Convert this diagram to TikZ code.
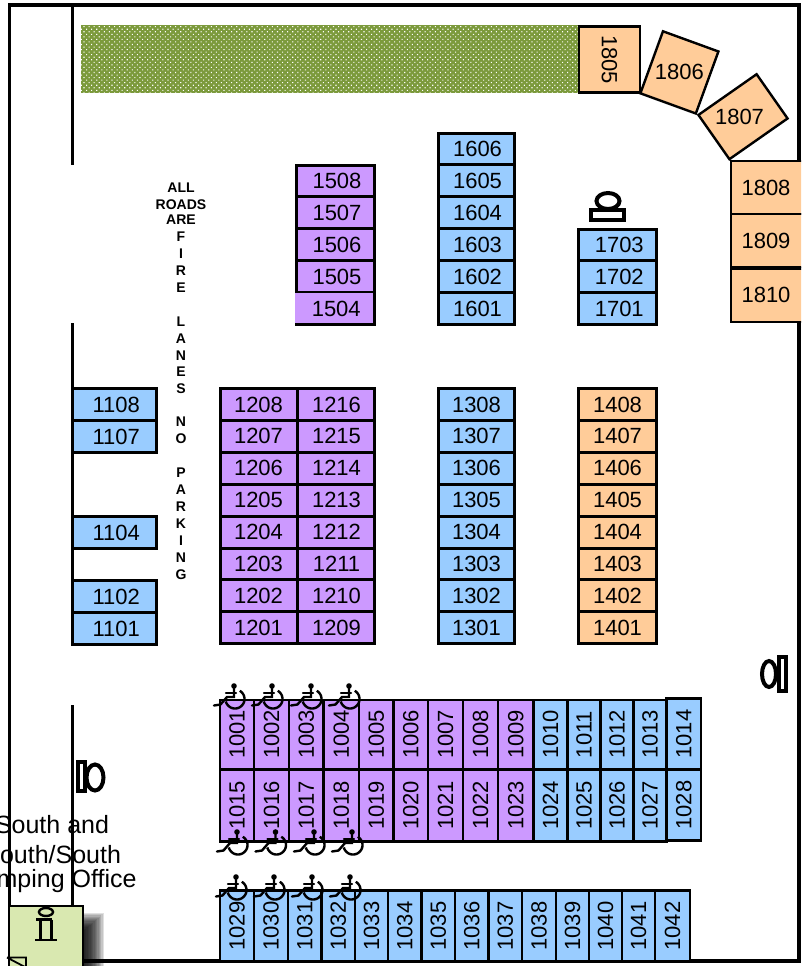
\documentclass[tikz,border=0pt]{standalone}
\usepackage{fontspec}
\usepackage{graphicx}
\setmainfont{Liberation Sans}
\usetikzlibrary{patterns.meta}
\definecolor{purp}{HTML}{CC99FF}
\definecolor{blu}{HTML}{99CCFF}
\definecolor{org}{HTML}{FFCC99}
\definecolor{infog}{HTML}{D9E8B0}
\definecolor{grass}{HTML}{7C9A3C}
\newcommand{\rotnum}[1]{\rotatebox{90}{#1}}
\newcommand{\shr}[1]{\hspace*{3.5pt}#1}
\tikzset{
  x=1pt,y=-1pt,
  stall/.style={draw=black,line width=3pt,inner sep=0pt,outer sep=0pt,font=\fontsize{22}{24}\selectfont,text=black,anchor=north west},
  thin stall/.style={stall,line width=2.4pt},
  wall/.style={draw=black,line width=3.2pt},
  icon/.style={draw=black,line width=4pt},
  chair/.pic={
    \fill (0,0) circle (2.8);
    \draw[line width=2.4pt,line cap=round] (0,1) -- (0,11) -- (-7,11) -- (-13.5,18.5) -- (-20,19.5);
    \draw[line width=2.4pt,line cap=round] (-8,7) -- (2,7);
    \draw[line width=2.4pt] plot[smooth,domain=-60:165,samples=30] ({1+9.5*cos(\x)},{13+9.5*sin(\x)});
  },
  cnote/.style={font=\fontsize{25}{26}\selectfont,anchor=base east,inner sep=0pt,outer sep=0pt,text=black},
  lane/.style={font=\bfseries\fontsize{14}{14}\selectfont,inner sep=0pt}
}
\begin{document}
\begin{tikzpicture}
\useasboundingbox (0,0) rectangle (801,966);
\clip (0,0) rectangle (801,966);
% green strip
\fill[grass] (81,25) rectangle (579,92.5);
\fill[pattern={Dots[radius=0.75pt,distance=3.6pt,angle=45]},pattern color=white] (81,25) rectangle (579,92.5);
% shadow
\foreach \i in {0,...,15}
  \fill[black,opacity=.12] (30,{913+1.2*\i}) rectangle ({104-1.35*\i},966);
% walls
\draw[wall] (9.5,906) -- (9.5,5) -- (799,5) -- (799,161);
\draw[wall] (799,322) -- (799,961) -- (83,961);
\draw[wall] (72.5,5) -- (72.5,165);
\draw[wall] (72.5,323) -- (72.5,644);
\draw[wall] (72.5,705) -- (72.5,906);
% 11xx
\foreach \t/\yy in {1108/388.5,1107/420.5,1104/516.5,1102/580.5,1101/612.5}
  \node[stall,fill=blu,minimum width=84pt,minimum height=31.9pt] (s\t) at (72.5,\yy) {\shr{\t}};
% 12xx
\foreach \t [count=\i from 0] in {1208,1207,1206,1205,1204,1203,1202,1201}
  \node[stall,fill=purp,minimum width=77pt,minimum height=31.9pt] (s\t) at (220,{388.5+31.9*\i}) {\t};
\foreach \t [count=\i from 0] in {1216,1215,1214,1213,1212,1211,1210,1209}
  \node[stall,fill=purp,minimum width=77pt,minimum height=31.9pt] (s\t) at (297,{388.5+31.9*\i}) {\hspace*{2pt}\t};
% 13xx
\foreach \t [count=\i from 0] in {1308,1307,1306,1305,1304,1303,1302,1301}
  \node[stall,fill=blu,minimum width=76pt,minimum height=31.9pt] (s\t) at (438.5,{388.5+31.9*\i}) {\t};
% 14xx
\foreach \t [count=\i from 0] in {1408,1407,1406,1405,1404,1403,1402,1401}
  \node[stall,fill=org,minimum width=78pt,minimum height=31.9pt] (s\t) at (578.5,{388.5+31.9*\i}) {\t};
% 15xx
\foreach \t [count=\i from 0] in {1508,1507,1506,1505}
  \node[stall,fill=purp,minimum width=77.5pt,minimum height=31.9pt] (s\t) at (296.5,{165+31.9*\i}) {\shr{\t}};
\node[stall,draw=none,fill=purp,minimum width=79pt,minimum height=32pt] (s1504) at (295,292.5) {\shr{1504}};
\draw[line width=3pt] (s1504.north east) -- (s1504.south east) -- (s1504.south west);
% 16xx
\foreach \t [count=\i from 0] in {1606,1605,1604,1603,1602,1601}
  \node[stall,fill=blu,minimum width=76pt,minimum height=31.9pt] (s\t) at (438.5,{133+31.9*\i}) {\hspace*{2pt}\t};
% 17xx
\foreach \t [count=\i from 0] in {1703,1702,1701}
  \node[stall,fill=blu,minimum width=78pt,minimum height=31.9pt] (s\t) at (578.5,{229+31.9*\i}) {\shr{\t}};
% 18xx
\node[thin stall,fill=org,minimum width=61pt,minimum height=66pt] (s1805) at (579,26.5) {\rotatebox{-90}{1805}};
\node[thin stall,anchor=center,fill=org,rotate=-20,minimum width=59pt,minimum height=66pt] (s1806) at (679.4,72.4) {\rotatebox{20}{1806}};
\node[thin stall,anchor=center,fill=org,rotate=35,minimum width=71pt,minimum height=54pt] (s1807) at (743,116.7) {\rotatebox{-35}{1807\hspace*{7pt}}};
\node[thin stall,fill=org,minimum width=80pt,minimum height=53pt] (s1808) at (731,161) {\hspace*{-10pt}1808};
\node[thin stall,fill=org,minimum width=80pt,minimum height=53pt] (s1809) at (731,214) {\hspace*{-10pt}1809};
\node[thin stall,fill=org,minimum width=80pt,minimum height=53.5pt] (s1810) at (731,268.5) {\hspace*{-10pt}1810};
% 1000 rows
\foreach \t/\a/\b in {1001/220/254,1002/254/289,1003/289/323.5,1004/323.5/359,1005/359/393.5,1006/393.5/428,1007/428/463,1008/463/498,1009/498/533.5}
  \node[thin stall,fill=purp,minimum width={(\b-\a)*1pt},minimum height=69pt] (s\t) at (\a,700) {\rotnum{\t}};
\foreach \t/\a/\b in {1010/533.5/567.5,1011/567.5/600.5,1012/600.5/633.5,1013/633.5/666.5}
  \node[thin stall,fill=blu,minimum width={(\b-\a)*1pt},minimum height=69pt] (s\t) at (\a,700) {\rotnum{\t}};
\node[thin stall,fill=blu,minimum width=34.5pt,minimum height=71pt] (s1014) at (666.5,698.5) {\rotnum{1014}};
\foreach \t/\a/\b in {1015/220/254,1016/254/289,1017/289/323.5,1018/323.5/359,1019/359/393.5,1020/393.5/428,1021/428/463,1022/463/498,1023/498/533.5}
  \node[thin stall,fill=purp,minimum width={(\b-\a)*1pt},minimum height=72pt] (s\t) at (\a,769.5) {\rotnum{\t}};
\foreach \t/\a/\b in {1024/533.5/567.5,1025/567.5/600.5,1026/600.5/633.5,1027/633.5/666.5}
  \node[thin stall,fill=blu,minimum width={(\b-\a)*1pt},minimum height=72pt] (s\t) at (\a,769.5) {\rotnum{\t}};
\node[thin stall,fill=blu,minimum width=34.5pt,minimum height=71pt] (s1028) at (666.5,769.5) {\rotnum{1028}};
\foreach \t/\a/\b in {1029/220/254,1030/254/288,1031/288/321.5,1032/321.5/355,1033/355/388,1034/388/421.5,1035/421.5/455,1036/455/488.5,1037/488.5/522,1038/522/556,1039/556/589,1040/589/622,1041/622/655,1042/655/690}
  \node[thin stall,fill=blu,minimum width={(\b-\a)*1pt},minimum height=71pt] (s\t) at (\a,890.5) {\rotnum{\t}};
% wheelchairs
\foreach \xx/\yy in {234/686,272/686,311/686,349/686,237/832,275.5/832,314/832,352/832,236/877,274/877,312/877,350/877}
  \pic at (\xx,\yy) {chair};
% rest rooms
\draw[icon] (95,777.5) ellipse[x radius=8.5,y radius=13];
\draw[icon,fill=white] (77.5,762) rectangle (84.5,791);
\draw[icon] (769,674) ellipse[x radius=7,y radius=13];
\draw[icon,fill=white] (779,657) rectangle (786,691);
\draw[icon] (608,201) ellipse[x radius=11.5,y radius=8];
\draw[icon,fill=white] (591,210) rectangle (624,220);
% fire-lane text
\foreach \t/\yy in {ALL/188,ROADS/204.5,ARE/220,F/237,I/254,R/271,E/288,L/322,A/339,N/356,E/372,S/389,N/422,O/439,P/473,A/490,R/507,K/524,I/541,N/558,G/575}
  \node[lane] (t\yy) at (181,\yy) {\t};
% info
\node[cnote] (n1) at (109,833) {South and};
\node[cnote] (n2) at (121,863) {outh/South};
\node[cnote] (n3) at (136.5,887) {mping Office};
\node[draw=black,line width=2.2pt,outer sep=0pt,fill=infog,minimum width=74pt,minimum height=70pt,anchor=north west] (info) at (9,906) {};
\draw[line width=2.4pt] (46,912) ellipse[x radius=7,y radius=4];
\draw[line width=2.6pt] (36,919.5) -- (40.5,919.5) -- (40.5,940) (51.5,919.5) -- (51.5,940) (40.5,919.5) -- (51.5,919.5) (35,940) -- (57,940);
\draw[line width=1.8pt] (7,957.5) -- (26,957.5) -- (26,966) (7,957.5) -- (25,967);
\end{tikzpicture}
\end{document}
